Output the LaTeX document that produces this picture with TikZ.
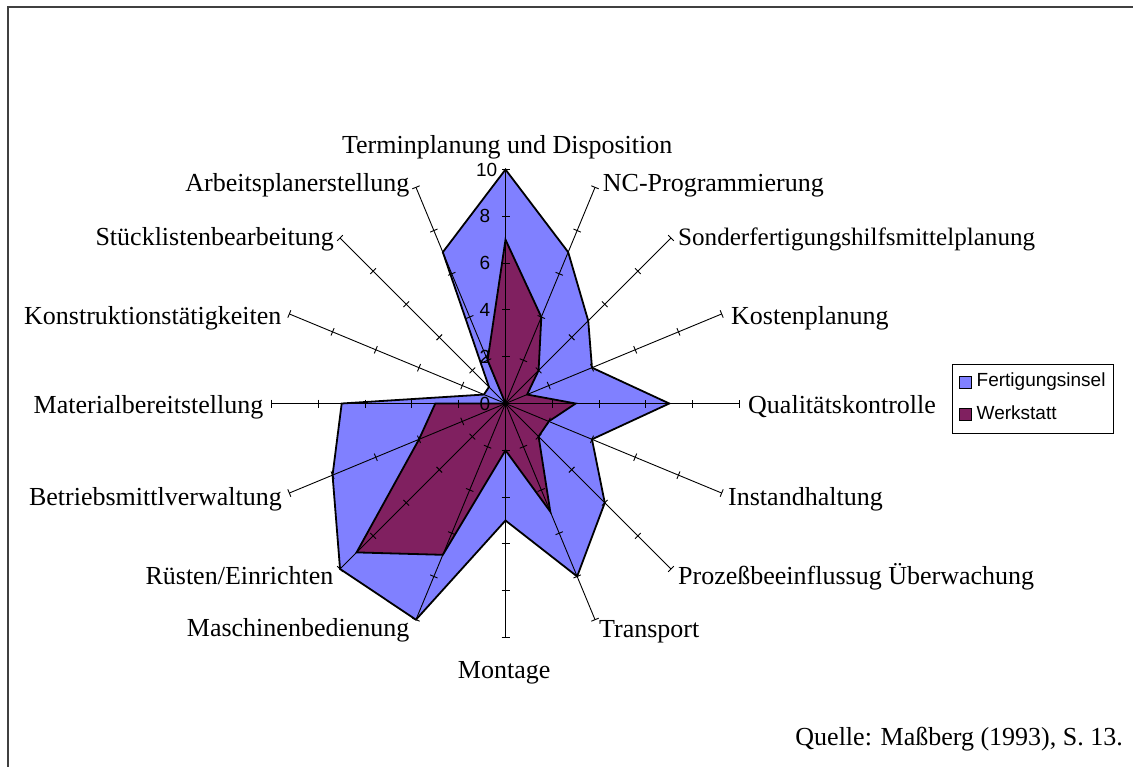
\documentclass[tikz,border=0pt]{standalone}
\usepackage{fontspec}
\setmainfont{Liberation Serif}
\setsansfont{Liberation Sans}
\begin{document}
\begin{tikzpicture}[x=1pt,y=-1pt,
  catlabel/.style={font=\fontsize{26}{30}\selectfont, inner sep=0pt},
  vallabel/.style={font=\sffamily\fontsize{19}{22}\selectfont, inner sep=0pt, anchor=east},
  legtext/.style={font=\sffamily\fontsize{19}{22}\selectfont, inner sep=0pt, anchor=base west},
  series/.style={draw=black, line width=1.8pt, line join=miter},
  spoke/.style={draw=black, line width=0.9pt},
  tickmark/.style={draw=black, line width=0.9pt},
]
\definecolor{insel}{HTML}{8080FF}
\definecolor{werk}{HTML}{802060}

\useasboundingbox (0,0) rectangle (1133,767);
% frame of the chart area
\draw[line width=1.5pt, color=black!75] (8,767) -- (8,7) -- (1133,7);

% ---- radar chart, centred on the common origin of all spokes ----
\begin{scope}[shift={(505.5,403.5)}, y=1pt]
  \def\inselvals{10,7,5,4,7,4,6,8,5,10,10,8,7,1,1,7}
  \def\werkvals{7,4,2,1,3,2,2,5,2,7,9,4,3,0,0,2}
  \foreach \v [count=\i from 0] in \inselvals
    {\coordinate (f\i) at ({90-22.5*\i}:{23.4*\v});}
  \foreach \v [count=\i from 0] in \werkvals
    {\coordinate (w\i) at ({90-22.5*\i}:{23.4*\v});}

  \fill[insel] (f0) -- (f1) -- (f2) -- (f3) -- (f4) -- (f5) -- (f6) -- (f7)
    -- (f8) -- (f9) -- (f10) -- (f11) -- (f12) -- (f13) -- (f14) -- (f15) -- cycle;
  \draw[series] (f0) -- (f1) -- (f2) -- (f3) -- (f4) -- (f5) -- (f6) -- (f7)
    -- (f8) -- (f9) -- (f10) -- (f11) -- (f12) -- (f13) -- (f14) -- (f15) -- cycle;
  \fill[werk] (w0) -- (w1) -- (w2) -- (w3) -- (w4) -- (w5) -- (w6) -- (w7)
    -- (w8) -- (w9) -- (w10) -- (w11) -- (w12) -- (w13) -- (w14) -- (w15) -- cycle;
  \draw[series] (w0) -- (w1) -- (w2) -- (w3) -- (w4) -- (w5) -- (w6) -- (w7)
    -- (w8) -- (w9) -- (w10) -- (w11) -- (w12) -- (w13) -- (w14) -- (w15) -- cycle;

  % value axis, lower half drawn in grey
  \draw[black!55, line width=1.6pt] (0,0) -- (0,-234);

  % category spokes with tick marks every 2 units
  \foreach \i in {0,...,15} {
    \begin{scope}[rotate={90-22.5*\i}]
      \draw[spoke] (0,0) -- (234,0);
      \foreach \k in {1,...,5}
        \draw[tickmark] ({46.8*\k},-4) -- ({46.8*\k},4);
    \end{scope}
  }

  % scale numbers
  \node[vallabel] (v0) at (-15,0) {0};
  \node[vallabel] (v2) at (-15,46.8) {2};
  \node[vallabel] (v4) at (-15,93.6) {4};
  \node[vallabel] (v6) at (-15,140.4) {6};
  \node[vallabel] (v8) at (-15,187.2) {8};
  \node[vallabel] (v10) at (-8,234) {10};
\end{scope}

% ---- category labels ----
\node[catlabel, anchor=base] (c0) at (507.2,153.3) {Terminplanung und Disposition};
\node[catlabel, anchor=base west] (c1) at (602.7,191.7) {NC-Programmierung};
\node[catlabel, anchor=base west, font=\fontsize{25.1}{30}\selectfont] (c2) at (678,245.5) {Sonderfertigungshilfsmittelplanung};
\node[catlabel, anchor=base west] (c3) at (731,325) {Kostenplanung};
\node[catlabel, anchor=base west] (c4) at (748,413.3) {Qualitätskontrolle};
\node[catlabel, anchor=base west] (c5) at (728,505) {Instandhaltung};
\node[catlabel, anchor=base west] (c6) at (678,584) {Prozeßbeeinflussug Überwachung};
\node[catlabel, anchor=base west] (c7) at (599,637) {Transport};
\node[catlabel, anchor=base] (c8) at (504.2,678.3) {Montage};
\node[catlabel, anchor=base east] (c9) at (409.5,636) {Maschinenbedienung};
\node[catlabel, anchor=base east] (c10) at (333.5,584) {Rüsten/Einrichten};
\node[catlabel, anchor=base east] (c11) at (282,505) {Betriebsmittlverwaltung};
\node[catlabel, anchor=base east] (c12) at (263.5,413.3) {Materialbereitstellung};
\node[catlabel, anchor=base east] (c13) at (281.5,325) {Konstruktionstätigkeiten};
\node[catlabel, anchor=base east] (c14) at (334,245.5) {Stücklistenbearbeitung};
\node[catlabel, anchor=base east] (c15) at (409.5,191.7) {Arbeitsplanerstellung};

% ---- legend ----
\draw[black, line width=0.8pt] (952,364) rectangle (1113,433);
\filldraw[fill=insel, draw=black, line width=1pt] (959.5,376.5) rectangle (971.5,388.5);
\filldraw[fill=werk, draw=black, line width=1pt] (959.5,408.5) rectangle (971.5,420.5);
\node[legtext] (l1) at (976.5,387) {Fertigungsinsel};
\node[legtext] (l2) at (976.5,419.5) {Werkstatt};

% ---- source ----
\node[catlabel, anchor=base east] (src) at (1123,745) {Quelle: Maßberg (1993), S. 13.};
\end{tikzpicture}
\end{document}
